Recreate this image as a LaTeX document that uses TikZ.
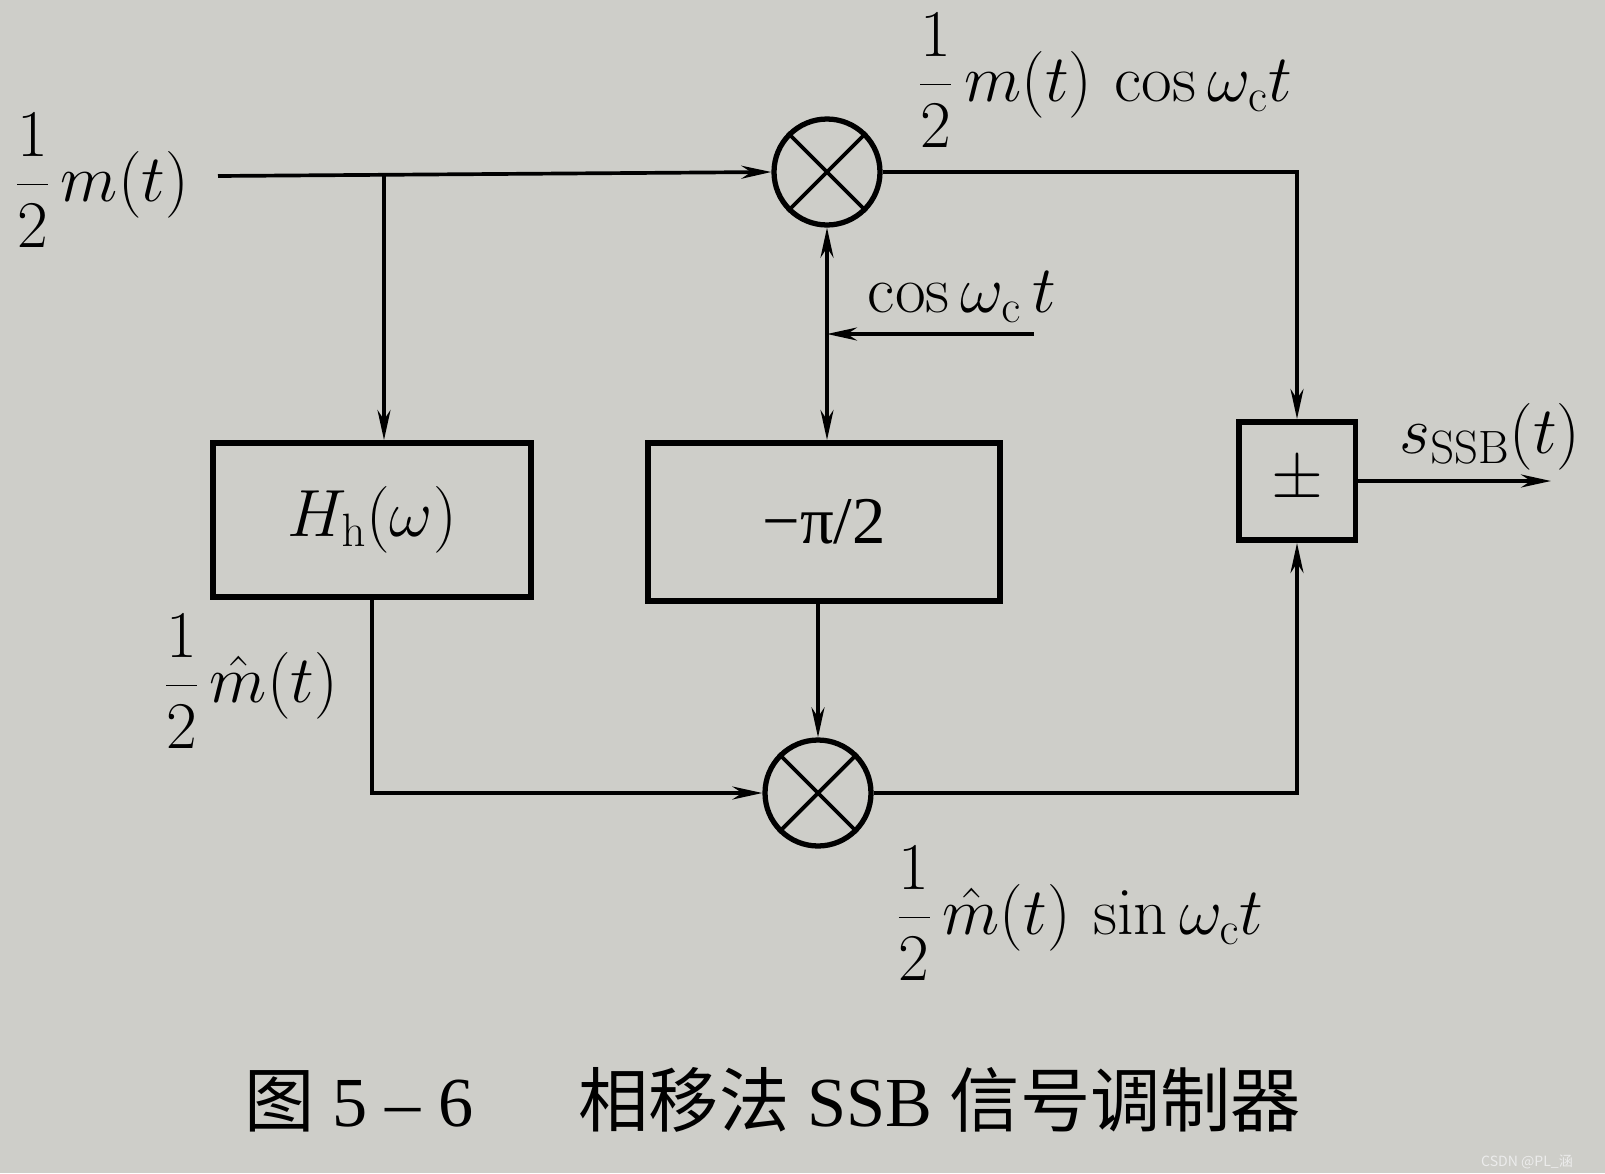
\documentclass[tikz,border=0pt]{standalone}
\usepackage{fix-cm}
\usepackage{amsmath}
\usepackage[no-math]{fontspec}
\setmainfont{Liberation Serif}
\newfontfamily\cjk{Noto Sans CJK SC}
\usetikzlibrary{arrows.meta,positioning}
\definecolor{paper}{RGB}{206,206,201}

\begin{document}
\begin{tikzpicture}[x=0.02cm, y=-0.02cm,
            font=\fontsize{38}{44}\selectfont,
            mult/.style={circle, draw, line width=3pt, minimum size=2.12cm, inner sep=0pt},
            block/.style={rectangle, draw, line width=3.4pt, inner sep=0pt},
            paths/.style={line width=2.1pt, -{Stealth[length=6mm, width=2.6mm]}},
            both/.style={line width=2.1pt, {Stealth[length=6mm, width=2.6mm]}-{Stealth[length=6mm, width=2.6mm]}},
            label/.style={inner sep=0pt}
        ]
            % Background
            \fill[paper] (0,0) rectangle (1605,1173);
            \useasboundingbox (0,0) rectangle (1605,1173);

            % Nodes
            \node[mult] (m1) at (827,172) {};
            \node[mult] (m2) at (818,793) {};
            \node[block, minimum width=6.36cm, minimum height=3.08cm] (hb) at (372,520) {$H_{\mathrm{h}}(\omega)$};
            \node[block, minimum width=7.04cm, minimum height=3.16cm] (pb) at (824,522) {−π/2};
            \node[block, minimum width=2.34cm, minimum height=2.36cm] (sum) at (1297,481) {$\pm$};

            \coordinate (in) at (218,176);
            \coordinate (branch) at (384,176);
            \coordinate (carrier) at (1034,334);
            \coordinate (out) at (1551,481);

            % Crosses of the multipliers
            \foreach \m in {m1, m2} {
                \draw[line width=2.2pt] (\m.north west) -- (\m.south east)
                                        (\m.north east) -- (\m.south west);
            }

            % Paths
            \draw[paths] (in) -- (m1.west);
            \draw[paths] (branch) -- (branch |- hb.north);
            \draw[paths] (m1.east) -| (sum.north);
            \draw[both] (m1.south) -- (m1.south |- pb.north);
            \draw[paths] (carrier) -- (m1.south |- carrier);
            \draw[paths] (m2.north |- pb.south) -- (m2.north);
            \draw[paths] (hb.south) |- (m2.west);
            \draw[paths] (m2.east) -| (sum.south);
            \draw[paths] (sum.east) -- (out);

            % Labels
            \node[label] (lin) at (102,180) {$\dfrac{1}{2}\,m(t)$};
            \node[label] (lup) at (1105,80) {$\dfrac{1}{2}\,m(t)\,\cos\omega_{\mathrm{c}}t$};
            \node[label] (lcos) at (962,297) {$\cos\omega_{\mathrm{c}}\,t$};
            \node[label] (lout) at (1490,437) {$s_{\mathrm{SSB}}(t)$};
            \node[label] (lhat) at (251,681) {$\dfrac{1}{2}\,\hat{m}(t)$};
            \node[label] (lsin) at (1080,913) {$\dfrac{1}{2}\,\hat{m}(t)\,\sin\omega_{\mathrm{c}}t$};

            % Caption
            \node[label, font=\fontsize{40}{46}\selectfont] (cap) at (773,1100)
                {{\cjk 图}\ 5\ –\ 6\quad\ \ {\cjk 相移法}\ SSB\ {\cjk 信号调制器}};
            \node[label, font=\fontsize{8}{9}\selectfont\cjk, text=white!85!gray] (wm) at (1527,1162) {CSDN @PL\_涵};
        \end{tikzpicture}
\end{document}
